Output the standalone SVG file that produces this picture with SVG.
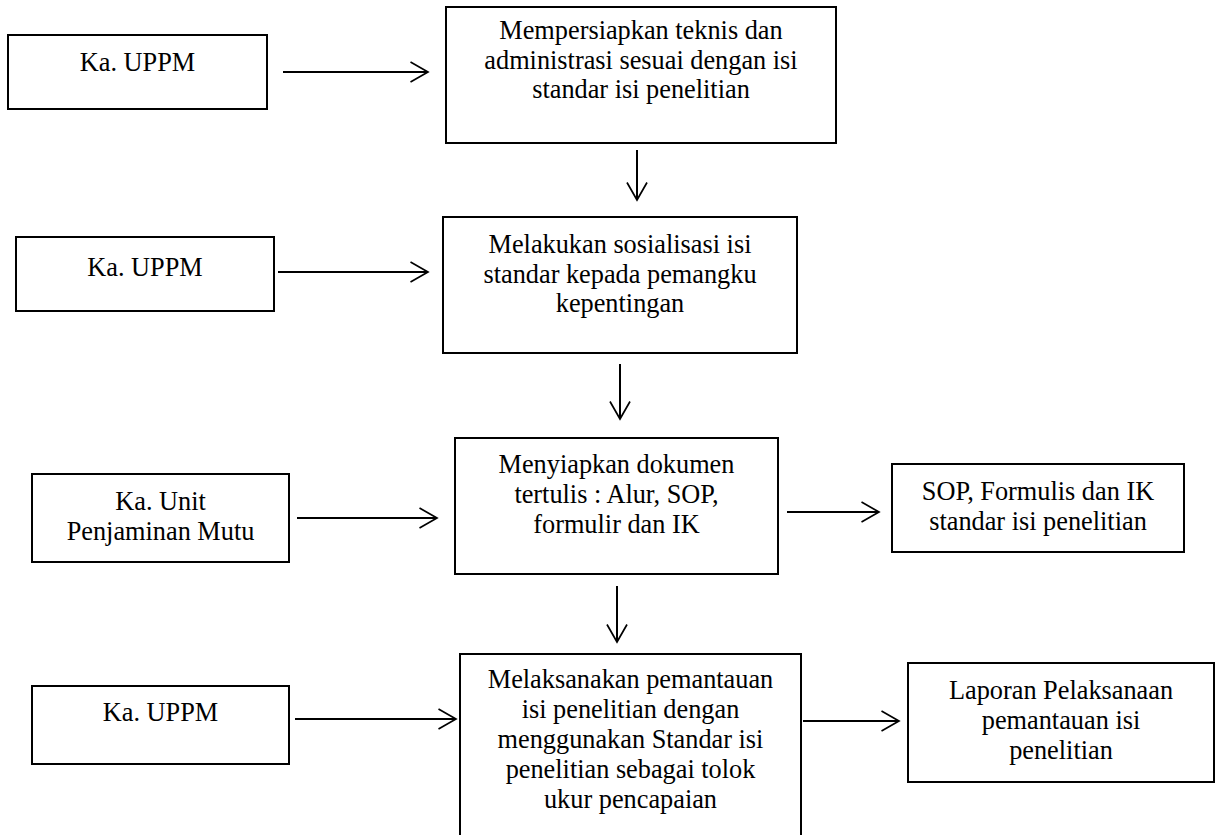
<svg xmlns="http://www.w3.org/2000/svg" width="1219" height="835" viewBox="0 0 1219 835">
<defs>
<marker id="ah" viewBox="0 0 20 22" refX="18.5" refY="11" markerWidth="20" markerHeight="22" markerUnits="userSpaceOnUse" orient="auto">
<path d="M1,1 L18.5,11 L1,21" fill="none" stroke="#000" stroke-width="1.7"/>
</marker>
<style>
.box{fill:#fff;stroke:#000;stroke-width:2}
.t{font-size:26.3px;fill:#000;text-anchor:middle}
.c{stroke:#000;stroke-width:2;fill:none;marker-end:url(#ah)}
</style>
</defs>
<rect width="1219" height="835" fill="#fff"/>
<g id="connectors">
<line class="c" x1="283" y1="72" x2="428" y2="72"/>
<line class="c" x1="637" y1="150" x2="637" y2="200"/>
<line class="c" x1="278" y1="272" x2="428" y2="272"/>
<line class="c" x1="620" y1="364" x2="620" y2="419"/>
<line class="c" x1="297" y1="518" x2="437" y2="518"/>
<line class="c" x1="787" y1="512" x2="879" y2="512"/>
<line class="c" x1="617" y1="586" x2="617" y2="642"/>
<line class="c" x1="295" y1="719" x2="456" y2="719"/>
<line class="c" x1="803" y1="721" x2="899" y2="721"/>
</g>
<g font-family="Liberation Serif, Times New Roman, serif">
<g id="n1"><rect class="box" x="8" y="35" width="259" height="74"/><text class="t" x="137.5" y="71">Ka. UPPM</text></g>
<g id="n2"><rect class="box" x="446" y="7" width="390" height="136"/>
<text class="t" x="641" y="39">Mempersiapkan teknis dan</text>
<text class="t" x="641" y="68.5">administrasi sesuai dengan isi</text>
<text class="t" x="641" y="98">standar isi penelitian</text></g>
<g id="n3"><rect class="box" x="16" y="237" width="258" height="74"/><text class="t" x="145" y="276">Ka. UPPM</text></g>
<g id="n4"><rect class="box" x="443" y="217" width="354" height="136"/>
<text class="t" x="620" y="253">Melakukan sosialisasi isi</text>
<text class="t" x="620" y="282.5">standar kepada pemangku</text>
<text class="t" x="620" y="312">kepentingan</text></g>
<g id="n5"><rect class="box" x="32" y="474" width="257" height="88"/>
<text class="t" x="160.5" y="510">Ka. Unit</text>
<text class="t" x="160.5" y="540">Penjaminan Mutu</text></g>
<g id="n6"><rect class="box" x="455" y="438" width="323" height="136"/>
<text class="t" x="616.5" y="473">Menyiapkan dokumen</text>
<text class="t" x="616.5" y="503">tertulis : Alur, SOP,</text>
<text class="t" x="616.5" y="533">formulir dan IK</text></g>
<g id="n7"><rect class="box" x="892" y="464" width="292" height="88"/>
<text class="t" x="1038" y="500">SOP, Formulis dan IK</text>
<text class="t" x="1038" y="530">standar isi penelitian</text></g>
<g id="n8"><rect class="box" x="32" y="686" width="257" height="78"/><text class="t" x="160.5" y="721">Ka. UPPM</text></g>
<g id="n9"><rect class="box" x="460" y="654" width="341" height="190"/>
<text class="t" x="630.5" y="688">Melaksanakan pemantauan</text>
<text class="t" x="630.5" y="718">isi penelitian dengan</text>
<text class="t" x="630.5" y="748">menggunakan Standar isi</text>
<text class="t" x="630.5" y="778">penelitian sebagai tolok</text>
<text class="t" x="630.5" y="808">ukur pencapaian</text></g>
<g id="n10"><rect class="box" x="908" y="663" width="306" height="119"/>
<text class="t" x="1061" y="699">Laporan Pelaksanaan</text>
<text class="t" x="1061" y="729">pemantauan isi</text>
<text class="t" x="1061" y="759">penelitian</text></g>
</g>
</svg>
